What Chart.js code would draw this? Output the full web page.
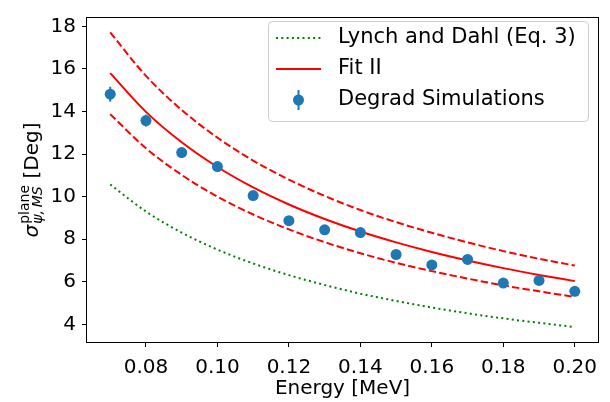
<!DOCTYPE html>
<html>
<head>
<meta charset="utf-8">
<script src="https://cdn.jsdelivr.net/npm/chart.js@4.4.1/dist/chart.umd.min.js"></script>
<style>
  html, body { margin: 0; padding: 0; background: #fff; }
  #wrap { width: 610px; height: 402px; }
</style>
</head>
<body>
<div id="wrap"><canvas id="myChart" width="610" height="402"></canvas></div>
<script>
// energy grid in MeV
const energies = [0.07, 0.08, 0.09, 0.10, 0.11, 0.12, 0.13, 0.14, 0.15, 0.16, 0.17, 0.18, 0.19, 0.20];
// curves, degrees
const lynchDahl = [10.57, 9.30, 8.31, 7.51, 6.86, 6.31, 5.85, 5.44, 5.10, 4.79, 4.52, 4.28, 4.07, 3.87];
const fitII     = [15.80, 13.98, 12.55, 11.39, 10.43, 9.63, 8.95, 8.36, 7.85, 7.40, 7.00, 6.64, 6.32, 6.03];
const fitUpper  = [17.71, 15.67, 14.07, 12.77, 11.69, 10.80, 10.03, 9.37, 8.80, 8.30, 7.85, 7.44, 7.08, 6.76];
const fitLower  = [13.87, 12.27, 11.02, 10.00, 9.16, 8.46, 7.86, 7.34, 6.89, 6.50, 6.15, 5.83, 5.55, 5.29];
// Degrad points and their errors
const simValues = [14.81, 13.57, 12.07, 11.41, 10.05, 8.87, 8.44, 8.31, 7.28, 6.79, 7.05, 5.94, 6.06, 5.55];
const simErrors = [0.35, 0.28, 0.22, 0.20, 0.17, 0.15, 0.14, 0.13, 0.12, 0.11, 0.11, 0.10, 0.09, 0.09];
// axis ticks
const xTicks = [0.08, 0.10, 0.12, 0.14, 0.16, 0.18, 0.20];
const yTicks = [4, 6, 8, 10, 12, 14, 16, 18];

const FONT = '"DejaVu Sans", sans-serif';
const BLUE = '#1f77b4';

const pts = arr => energies.map((e, i) => ({ x: e, y: arr[i] }));

// vertical error bars drawn under the markers
const errorBars = {
    id: 'errorBars',
    beforeDatasetDraw(chart, args) {
        if (args.index !== 0) return;
        const ctx = chart.ctx, xs = chart.scales.x, ys = chart.scales.y;
        ctx.save();
        ctx.strokeStyle = BLUE;
        ctx.lineWidth = 2;
        energies.forEach((e, i) => {
            const px = xs.getPixelForValue(e);
            ctx.beginPath();
            ctx.moveTo(px, ys.getPixelForValue(simValues[i] - simErrors[i]));
            ctx.lineTo(px, ys.getPixelForValue(simValues[i] + simErrors[i]));
            ctx.stroke();
        });
        ctx.restore();
    }
};

// frame, y title with sub/superscript, legend box
const decorations = {
    id: 'decorations',
    afterDraw(chart) {
        const ctx = chart.ctx, a = chart.chartArea;
        ctx.save();
        ctx.strokeStyle = '#000';
        ctx.lineWidth = 1;
        ctx.strokeRect(Math.round(a.left) - 0.5, Math.round(a.top) - 0.5,
            Math.round(a.right - a.left) + 1, Math.round(a.bottom - a.top) + 1);

        // y title
        ctx.save();
        ctx.translate(38, (a.top + a.bottom) / 2);
        ctx.rotate(-Math.PI / 2);
        ctx.fillStyle = '#000';
        ctx.textBaseline = 'alphabetic';
        ctx.textAlign = 'left';
        const fSig = 'italic 20px ' + FONT, fSup = '14px ' + FONT, fSub = 'italic 14px ' + FONT, fMain = '20px ' + FONT;
        const sub = 'ψ,\u2009MS', rest = ' [Deg]';
        ctx.font = fSig; const wSig = ctx.measureText('σ').width;
        ctx.font = fSup; const wSup = ctx.measureText('plane').width;
        ctx.font = fSub; const wSub = ctx.measureText(sub).width;
        ctx.font = fMain; const wRest = ctx.measureText(rest).width;
        let x = -(wSig + Math.max(wSup, wSub) + 1 + wRest) / 2;
        ctx.font = fSig; ctx.fillText('σ', x, 0); x += wSig + 1;
        ctx.font = fSup; ctx.fillText('plane', x, -9);
        ctx.font = fSub; ctx.fillText(sub, x, 4);
        x += Math.max(wSup, wSub);
        ctx.font = fMain; ctx.fillText(rest, x, 0);
        ctx.restore();

        // legend
        const bx = 268, by = 21, bw = 320, bh = 100;
        ctx.beginPath();
        ctx.roundRect(bx + 0.5, by + 0.5, bw, bh, 4);
        ctx.fillStyle = 'rgba(255,255,255,0.8)';
        ctx.fill();
        ctx.strokeStyle = '#cccccc';
        ctx.stroke();

        const rows = [38, 69, 100];
        const hx0 = 276, hx1 = 321;
        ctx.lineWidth = 2;
        ctx.strokeStyle = 'green';
        ctx.setLineDash([2, 3.3]);
        ctx.beginPath(); ctx.moveTo(hx0, rows[0]); ctx.lineTo(hx1, rows[0]); ctx.stroke();
        ctx.setLineDash([]);
        ctx.strokeStyle = 'red';
        ctx.beginPath(); ctx.moveTo(hx0, rows[1]); ctx.lineTo(hx1, rows[1]); ctx.stroke();
        const cx = (hx0 + hx1) / 2;
        ctx.strokeStyle = BLUE;
        ctx.beginPath(); ctx.moveTo(cx, rows[2] - 10); ctx.lineTo(cx, rows[2] + 10); ctx.stroke();
        ctx.fillStyle = BLUE;
        ctx.beginPath(); ctx.arc(cx, rows[2], 5.5, 0, Math.PI * 2); ctx.fill();

        ctx.fillStyle = '#000';
        ctx.font = '21px ' + FONT;
        ctx.textBaseline = 'middle';
        const names = ['Lynch and Dahl (Eq. 3)', 'Fit II', 'Degrad Simulations'];
        names.forEach((n, i) => ctx.fillText(n, 338, rows[i]));
        ctx.restore();
    }
};

const ctx = document.getElementById('myChart').getContext('2d');
const myChart = new Chart(ctx, {
    type: 'scatter',
    data: {
        datasets: [{
            label: 'Degrad Simulations',
            data: pts(simValues),
            showLine: false,
            pointRadius: 5.5,
            pointBackgroundColor: BLUE,
            pointBorderWidth: 0,
            order: 0
        }, {
            label: 'Lynch and Dahl (Eq. 3)',
            data: pts(lynchDahl),
            showLine: true,
            borderColor: 'green',
            borderWidth: 2,
            borderDash: [2, 3.3],
            pointRadius: 0,
            cubicInterpolationMode: 'monotone',
            order: 4
        }, {
            label: 'Fit II',
            data: pts(fitII),
            showLine: true,
            borderColor: 'red',
            borderWidth: 2,
            pointRadius: 0,
            cubicInterpolationMode: 'monotone',
            order: 1
        }, {
            label: 'Fit II upper',
            data: pts(fitUpper),
            showLine: true,
            borderColor: 'red',
            borderWidth: 2,
            borderDash: [7.4, 3.2],
            pointRadius: 0,
            cubicInterpolationMode: 'monotone',
            order: 2
        }, {
            label: 'Fit II lower',
            data: pts(fitLower),
            showLine: true,
            borderColor: 'red',
            borderWidth: 2,
            borderDash: [7.4, 3.2],
            pointRadius: 0,
            cubicInterpolationMode: 'monotone',
            order: 3
        }]
    },
    options: {
        responsive: false,
        animation: false,
        devicePixelRatio: 1,
        layout: { padding: { left: 0, right: 12, top: 10, bottom: 0 } },
        plugins: { legend: { display: false }, tooltip: { enabled: false } },
        scales: {
            x: {
                type: 'linear',
                min: 0.0635,
                max: 0.2065,
                afterBuildTicks: s => { s.ticks = xTicks.map(v => ({ value: v })); },
                afterFit: s => { s.height = 60; },
                grid: { drawOnChartArea: false, drawTicks: true, tickLength: 5, tickColor: '#000' },
                border: { display: false },
                ticks: {
                    color: '#000', font: { family: FONT, size: 20 }, padding: 9,
                    maxRotation: 0, autoSkip: false,
                    callback: v => v.toFixed(2)
                },
                title: {
                    display: true, text: 'Energy [MeV]', color: '#000',
                    font: { family: FONT, size: 20 }, padding: { top: 0, bottom: 1 }
                }
            },
            y: {
                type: 'linear',
                min: 3.17,
                max: 18.39,
                afterBuildTicks: s => { s.ticks = yTicks.map(v => ({ value: v })); },
                afterFit: s => { s.width = 87; },
                grid: { drawOnChartArea: false, drawTicks: true, tickLength: 5, tickColor: '#000' },
                border: { display: false },
                ticks: {
                    color: '#000', font: { family: FONT, size: 20 }, padding: 6,
                    autoSkip: false,
                    callback: v => String(v)
                }
            }
        }
    },
    plugins: [errorBars, decorations]
});
</script>
</body>
</html>
